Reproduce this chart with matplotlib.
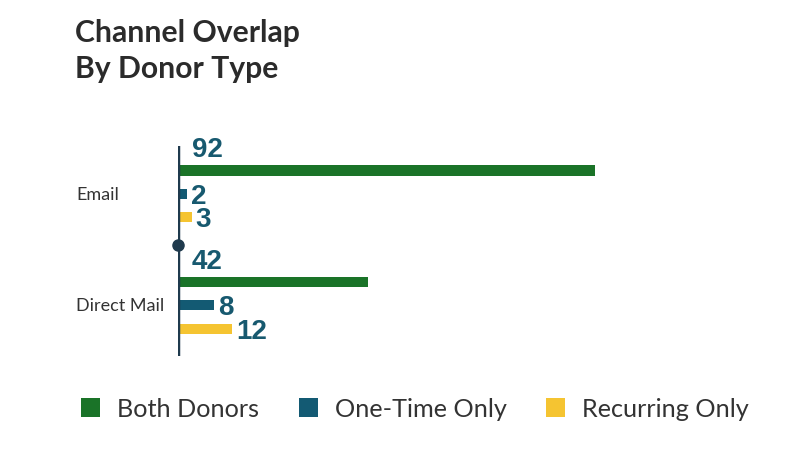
import matplotlib
matplotlib.use("Agg")
import matplotlib.pyplot as plt
import numpy as np

# data
channels = ["Email", "Direct Mail"]
series = ["Both Donors", "One-Time Only", "Recurring Only"]
both_donors = [92, 42]
one_time = [2, 8]
recurring = [3, 12]
colors = ["#1a7328", "#135a73", "#f5c431"]

plt.rcParams["font.family"] = ["Lato", "DejaVu Sans"]

W, H = 787, 460
fig = plt.figure(figsize=(W / 100, H / 100), dpi=100)
ax = fig.add_axes([178 / W, 1 - 357 / H, 453 / W, 210 / H])

y = np.arange(len(channels))
offsets = [-0.21, 0.0, 0.21]
bh = 0.09
values = [both_donors, one_time, recurring]
bars = []
for i, vals in enumerate(values):
    b = ax.barh(y + offsets[i], vals, height=bh, color=colors[i], label=series[i], zorder=2)
    bars.append(b)
    for yy, v in zip(y + offsets[i], vals):
        if i == 0:
            # big bar: number sits above the start of the bar
            ax.annotate(str(v), xy=(0, yy), xytext=(10, 6), textcoords="offset points",
                        ha="left", va="bottom", fontsize=20, fontweight="bold",
                        color="#17596f", family="Liberation Sans")
        else:
            ax.annotate(str(v), xy=(v, yy), xytext=(2.5, -1.5), textcoords="offset points",
                        ha="left", va="center", fontsize=20, fontweight="bold",
                        color="#17596f", family="Liberation Sans")

ax.set_xlim(0, 100)
ax.set_ylim(1.455, -0.43)
ax.axvline(0, color="#1f3a4d", lw=2.5, zorder=3)
ax.plot([0], [0.455], "o", color="#1f3a4d", ms=8, zorder=4, clip_on=False)
for s in ax.spines.values():
    s.set_visible(False)
ax.set_xticks([])
ax.set_yticks([])

for yy, name in zip(y, channels):
    fig.text(76 / W, 1 - (195 + yy * 111) / H, name, ha="left", va="center",
             fontsize=13, color="#333333")

fig.text(75 / W, 1 - 42 / H, "Channel Overlap", ha="left", va="baseline",
         fontsize=21.7, fontweight="bold", color="#2b2b2b")
fig.text(75 / W, 1 - 78 / H, "By Donor Type", ha="left", va="baseline",
         fontsize=21.7, fontweight="bold", color="#2b2b2b")

fig.legend(handles=bars, labels=series, loc="center left",
           bbox_to_anchor=(81 / W, 1 - 410 / H), ncol=3, frameon=False,
           fontsize=18.2, handlelength=0.75, handleheight=0.75, handletextpad=0.68,
           columnspacing=1.56, borderpad=0, borderaxespad=0, labelcolor="#333333")

fig.savefig("out.png", dpi=100)
